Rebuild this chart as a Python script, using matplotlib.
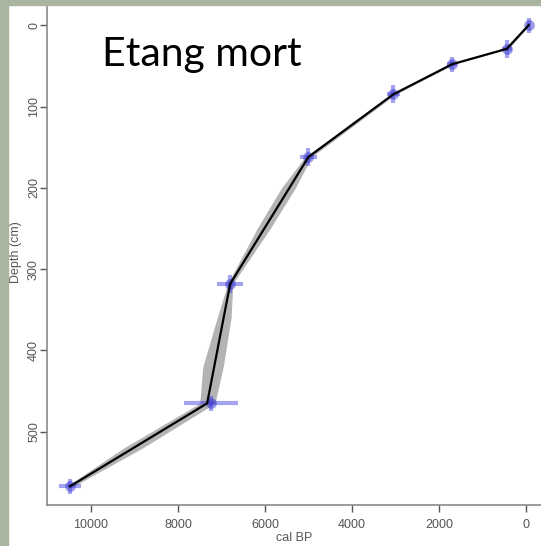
#!/usr/bin/env python3
"""
Age-depth model for Etang mort (calibrated ages vs depth)
"""

import matplotlib.pyplot as plt
import matplotlib.patches as mpatches

# Dated levels (cal BP, depth cm) and their spread
date_age = [-60, 440, 1700, 3050, 5000, 6800, 7250, 10480]
date_depth = [0, 29, 48, 85, 162, 318, 465, 567]
date_age_err = [40, 110, 120, 150, 200, 300, 620, 250]
date_depth_err = [9, 11, 9, 11, 11, 11, 9, 9]

# Model line through the dates
model_age = [-60, 440, 1700, 3050, 5000, 6800, 7330, 10480]
model_depth = [0, 29, 48, 85, 162, 318, 465, 567]

# Uncertainty envelope (min / max age at given depth)
env_depth = [0, 29, 48, 85, 162, 200, 250, 318, 360, 420, 465, 520, 567]
env_min = [-80, 400, 1650, 3000, 4930, 5300, 5880, 6740, 6780, 6960, 7150, 8820, 10400]
env_max = [-40, 480, 1760, 3110, 5080, 5620, 6180, 6860, 7100, 7430, 7500, 9250, 10560]

x_ticks = [10000, 8000, 6000, 4000, 2000, 0]
y_ticks = [0, 100, 200, 300, 400, 500]

W, H = 541, 546
fig = plt.figure(figsize=(W / 100, H / 100), dpi=100)
ax = fig.add_axes([47 / W, 41 / H, 1 - 47 / W, 1 - 41 / H])

ax.fill_betweenx(env_depth, env_min, env_max, color='#b4b4b4', lw=0, zorder=1)
ax.plot(model_age, model_depth, color='black', lw=1.6, zorder=3)
ax.errorbar(date_age, date_depth, xerr=date_age_err, yerr=date_depth_err,
            fmt='none', ecolor='#3333dd', elinewidth=3, alpha=0.45, zorder=2)
ax.scatter(date_age, date_depth, s=60, color='#3a3ad0', alpha=0.5, lw=0, zorder=2)

ax.set_xlim(11011, -345)
ax.set_ylim(590, -31)
ax.set_xticks(x_ticks)
ax.set_yticks(y_ticks)
ax.set_xticklabels([str(t) for t in x_ticks])
ax.set_yticklabels([str(t) for t in y_ticks], rotation=90, va='center')

for s in ['top', 'right']:
    ax.spines[s].set_visible(False)
for s in ['left', 'bottom']:
    ax.spines[s].set_color('#8a8a8a')
    ax.spines[s].set_linewidth(1.2)
ax.tick_params(colors='#555555', length=5, width=1, direction='out', labelsize=9)
ax.tick_params(axis='x', pad=5)
ax.tick_params(axis='y', pad=0)
for lab in ax.get_xticklabels() + ax.get_yticklabels():
    lab.set_family('Liberation Sans')

ax.set_xlabel('cal BP', fontsize=9, color='#555555', family='Liberation Sans', labelpad=1)
ax.set_ylabel('Depth (cm)', fontsize=9, color='#555555', family='Liberation Sans', labelpad=4)

fig.text(102 / W, 1 - 66 / H, 'Etang mort', fontsize=29.5, family='Lato',
         color='black', ha='left', va='baseline')

# slide frame
green = '#a9b59f'
fig.patches.append(mpatches.Rectangle((0, 0), 8 / W, 1, transform=fig.transFigure,
                                      color=green, zorder=10))
fig.patches.append(mpatches.Rectangle((0, 1 - 5 / H), 1, 5 / H, transform=fig.transFigure,
                                      color=green, zorder=10))

fig.savefig('out.png', dpi=100)
